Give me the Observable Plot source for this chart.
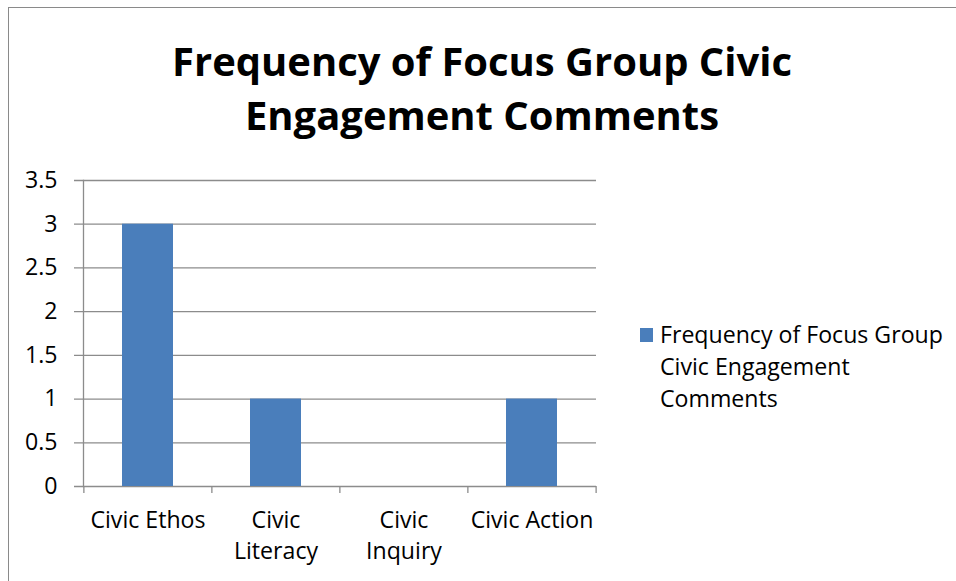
<!DOCTYPE html>
<html>
<head>
<meta charset="utf-8">
<script src="https://cdn.jsdelivr.net/npm/d3@7"></script>
<script src="https://cdn.jsdelivr.net/npm/@observablehq/plot@0.6"></script>
<style>
  html, body { margin: 0; padding: 0; background: #fff; }
  #wrap { position: relative; width: 956px; height: 581px; overflow: hidden; font-family: "Open Sans", sans-serif; }
  #frame { position: absolute; left: 8px; top: 7px; width: 960px; height: 600px; border-top: 1.5px solid #8a8a8a; border-left: 1.5px solid #8a8a8a; }
  #title { position: absolute; left: 8px; width: 948px; top: 34px; text-align: center; font-weight: 700; line-height: 54px; color: #000; white-space: nowrap; }
  #legend { position: absolute; left: 640px; top: 318px; line-height: 32px; color: #000; }
  #legend .sw { position: absolute; left: 0; top: 10px; width: 13px; height: 14px; }
  #legend .txt { position: absolute; left: 20px; top: 0; white-space: nowrap; }
  #chart { position: absolute; left: 0; top: 0; }
</style>
</head>
<body>
<div id="wrap">
  <div id="frame"></div>
  <div id="chart"></div>
  <div id="title"></div>
  <div id="legend"><div class="sw"></div><div class="txt"></div></div>
</div>
<script>
const titleLines = ["Frequency of Focus Group Civic", "Engagement Comments"];
const seriesName = "Frequency of Focus Group Civic Engagement Comments";
const legendLines = ["Frequency of Focus Group", "Civic Engagement", "Comments"];
const categories = ["Civic Ethos", "Civic Literacy", "Civic Inquiry", "Civic Action"];
const categoryLabels = ["Civic Ethos", "Civic\nLiteracy", "Civic\nInquiry", "Civic Action"];
const values = [3, 1, 0, 1];
const yTicks = [0, 0.5, 1, 1.5, 2, 2.5, 3, 3.5];
const yTickLabels = ["0", "0.5", "1", "1.5", "2", "2.5", "3", "3.5"];
const barColor = "#4a7ebb";
const gridColor = "#8c8c8c";

const data = categories.map((c, i) => ({category: c, value: values[i]}));

// fit font sizes to the widths of the reference text (Calibri substitute)
const ctx = document.createElement("canvas").getContext("2d");
function fit(text, weight, targetWidth) {
  ctx.font = `${weight} 100px "Open Sans"`;
  return 100 * targetWidth / ctx.measureText(text).width;
}
const titleSize = fit(titleLines[0], 700, 620);
const bodySize = fit(legendLines[0], 400, 283);

const titleEl = document.getElementById("title");
titleEl.innerHTML = titleLines.join("<br>");
titleEl.style.fontSize = titleSize + "px";
const legendEl = document.getElementById("legend");
legendEl.style.fontSize = bodySize + "px";
document.querySelector("#legend .txt").innerHTML = legendLines.join("<br>");
document.querySelector("#legend .sw").style.background = barColor;

const W = 956, H = 581;
const mL = 83, mR = 360, mT = 180, mB = 95;
const paddingInner = 0.6, paddingOuter = 0.3;
const step = (W - mL - mR) / (categories.length - paddingInner + 2 * paddingOuter);

const chart = Plot.plot({
  width: W,
  height: H,
  marginLeft: mL,
  marginRight: mR,
  marginTop: mT,
  marginBottom: mB,
  style: {fontFamily: "'Open Sans', sans-serif", fontSize: bodySize + "px", color: "#000", background: "transparent"},
  x: {domain: categories, paddingInner, paddingOuter, label: null},
  y: {domain: [0, 3.5], label: null},
  marks: [
    Plot.ruleY(yTicks, {stroke: gridColor, strokeWidth: 1.3, insetLeft: -9}),
    Plot.frame({anchor: "left", stroke: gridColor, strokeWidth: 1.3}),
    Plot.ruleX(categories, {x: d => d, dx: -step / 2, y1: 0, y2: 0, insetBottom: -7, stroke: gridColor, strokeWidth: 1.3}),
    Plot.ruleX(categories.slice(-1), {x: d => d, dx: step / 2, y1: 0, y2: 0, insetBottom: -7, stroke: gridColor, strokeWidth: 1.3}),
    Plot.barY(data, {x: "category", y: "value", fill: barColor, title: d => `${seriesName}: ${d.value}`}),
    Plot.axisY({ticks: yTicks, tickSize: 0, tickPadding: 26, fontSize: bodySize, fill: "#000",
      tickFormat: d => yTickLabels[yTicks.indexOf(d)], label: null}),
    Plot.axisX({tickSize: 0, tickPadding: 20, fontSize: bodySize, fill: "#000", lineHeight: 1.33,
      tickFormat: d => categoryLabels[categories.indexOf(d)], label: null})
  ]
});
document.getElementById("chart").appendChild(chart);
</script>
</body>
</html>
